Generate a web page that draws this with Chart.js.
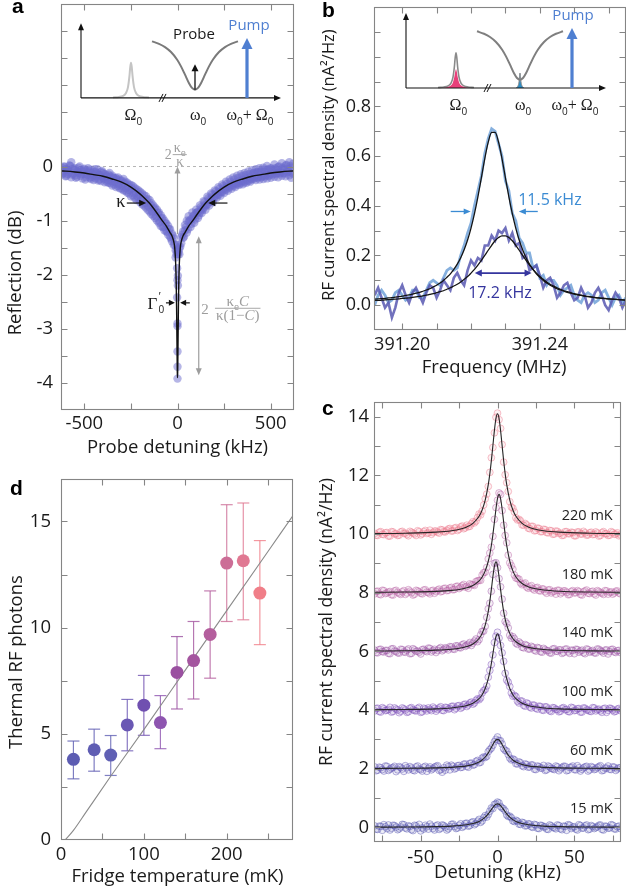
<!DOCTYPE html>
<html><head><meta charset="utf-8">
<script src="https://cdn.jsdelivr.net/npm/chart.js@4.4.1/dist/chart.umd.min.js"></script>
<style>
html,body{margin:0;padding:0;background:#fff;width:626px;height:896px;overflow:hidden}
canvas{position:absolute}
</style></head><body>
<canvas id="ca" width="313" height="470" style="left:0;top:0;width:313px;height:470px"></canvas>
<canvas id="cb" width="313" height="380" style="left:313px;top:0;width:313px;height:380px"></canvas>
<canvas id="cc" width="313" height="516" style="left:313px;top:380px;width:313px;height:516px"></canvas>
<canvas id="cd" width="313" height="426" style="left:0;top:470px;width:313px;height:426px"></canvas>
<script>
// ---------------- DATA ----------------
// Panel a: reflection vs probe detuning (kHz, dB)
const aScanX = [-620,-610,-600,-590,-580,-570,-560,-550,-540,-530,-520,-510,-500,-490,-480,-470,-460,-450,-440,-430,-420,-410,-400,-390,-380,-370,-360,-350,-340,-330,-320,-310,-300,-290,-280,-270,-260,-250,-240,-230,-220,-210,-200,-190,-180,-170,-160,-150,-140,-130,-120,-110,-100,-90,-80,-70,-60,-50,-40,-30,-20,-10,0,10,20,30,40,50,60,70,80,90,100,110,120,130,140,150,160,170,180,190,200,210,220,230,240,250,260,270,280,290,300,310,320,330,340,350,360,370,380,390,400,410,420,430,440,450,460,470,480,490,500,510,520,530,540,550,560,570,580,590,600,610,620];
const aScanA = [-0.02,-0.12,-0.05,-0.14,0.02,0.08,-0.04,-0.16,-0.08,-0.02,
 -0.17,-0.09,-0.04,-0.20,-0.11,-0.06,-0.19,-0.09,-0.22,-0.13,
 -0.24,-0.10,-0.21,-0.14,-0.28,-0.15,-0.31,-0.17,-0.33,-0.21,
 -0.36,-0.24,-0.41,-0.23,-0.45,-0.30,-0.50,-0.34,-0.53,-0.39,
 -0.62,-0.44,-0.66,-0.50,-0.72,-0.55,-0.80,-0.62,-0.88,-0.72,
 -0.95,-0.80,-1.04,-0.90,-1.12,-1.00,-1.20,-1.10,-1.30,-1.24,
 -1.45,-1.55,
 -2.90,
 -1.62,-1.30,-1.20,-1.08,-1.00,-0.92,-0.98,-0.85,-0.90,-0.80,
 -0.84,-0.72,-0.78,-0.64,-0.70,-0.56,-0.62,-0.50,-0.56,-0.44,
 -0.50,-0.38,-0.46,-0.33,-0.40,-0.28,-0.37,-0.24,-0.33,-0.20,
 -0.30,-0.17,-0.27,-0.14,-0.25,-0.12,-0.22,-0.09,-0.20,-0.07,
 -0.12,-0.05,-0.11,-0.03,-0.09,-0.02,-0.10,0.01,-0.07,-0.03,
 -0.09,0.04,-0.06,-0.01,-0.08,0.06,-0.04,0.02,-0.05,0.08,
 -0.02,0.05];
const aScanB = [-0.15,0.00,-0.18,-0.06,-0.11,-0.20,-0.13,-0.03,-0.19,-0.12,
 -0.07,-0.22,-0.14,-0.08,-0.03,-0.21,-0.12,-0.25,-0.10,-0.05,
 -0.16,-0.27,-0.12,-0.29,-0.17,-0.30,-0.19,-0.35,-0.22,-0.38,
 -0.20,-0.40,-0.26,-0.44,-0.28,-0.48,-0.33,-0.55,-0.36,-0.58,
 -0.42,-0.60,-0.47,-0.70,-0.53,-0.76,-0.60,-0.83,-0.68,-0.91,
 -0.76,-1.00,-0.85,-1.10,-0.95,-1.18,-1.05,-1.26,-1.16,-1.38,
 -1.33,-1.68,
 -3.70,
 -1.52,-1.42,-1.32,-1.18,-1.22,-1.02,-1.12,-0.96,-1.04,-0.86,
 -0.95,-0.85,-0.86,-0.76,-0.80,-0.70,-0.72,-0.62,-0.66,-0.57,
 -0.58,-0.52,-0.54,-0.47,-0.49,-0.43,-0.45,-0.39,-0.41,-0.36,
 -0.38,-0.33,-0.34,-0.31,-0.33,-0.29,-0.30,-0.27,-0.28,-0.24,
 -0.22,-0.25,-0.21,-0.24,-0.20,-0.23,-0.18,-0.22,-0.17,-0.21,
 -0.15,-0.19,-0.14,-0.20,-0.13,-0.17,-0.12,-0.18,-0.10,-0.16,
 -0.21,-0.14];
const aScanX2 = [-615,-605,-595,-585,-575,-565,-555,-545,-535,-525,-515,-505,-495,-485,-475,-465,-455,-445,-435,-425,-415,-405,-395,-385,-375,-365,-355,-345,-335,-325,-315,-305,-295,-285,-275,-265,-255,-245,-235,-225,-215,-205,-195,-185,-175,-165,-155,-145,-135,-125,-115,-105,-95,-85,-75,-65,-55,-45,-35,-25,-15,-5,5,15,25,35,45,55,65,75,85,95,105,115,125,135,145,155,165,175,185,195,205,215,225,235,245,255,265,275,285,295,305,315,325,335,345,355,365,375,385,395,405,415,425,435,445,455,465,475,485,495,505,515,525,535,545,555,565,575,585,595,605,615];
const aScanC = [-0.09,-0.01,-0.17,-0.07,0.01,-0.15,-0.06,-0.21,-0.10,0.00,
 -0.14,-0.06,-0.24,-0.15,-0.08,-0.23,-0.16,-0.05,-0.18,-0.26,
 -0.16,-0.08,-0.23,-0.19,-0.25,-0.12,-0.27,-0.20,-0.29,-0.24,
 -0.33,-0.27,-0.36,-0.31,-0.40,-0.37,-0.44,-0.41,-0.49,-0.47,
 -0.55,-0.52,-0.62,-0.58,-0.67,-0.63,-0.74,-0.71,-0.83,-0.78,
 -0.92,-0.86,-1.02,-0.96,-1.12,-1.05,-1.20,-1.16,-1.33,-1.28,
 -1.44,-1.62,
 -1.58,-1.48,-1.26,-1.30,-1.12,-1.16,-1.00,-1.06,-0.92,-0.98,
 -0.85,-0.90,-0.75,-0.80,-0.66,-0.72,-0.59,-0.65,-0.52,-0.58,
 -0.46,-0.52,-0.41,-0.47,-0.36,-0.42,-0.32,-0.38,-0.28,-0.34,
 -0.24,-0.31,-0.21,-0.29,-0.18,-0.27,-0.16,-0.25,-0.14,-0.23,
 -0.13,-0.20,-0.10,-0.19,-0.09,-0.18,-0.06,-0.16,-0.05,-0.15,
 -0.04,-0.13,-0.03,-0.12,0.00,-0.11,-0.02,-0.13,0.03,-0.09,
 0.01,-0.11];
const aCenterX = [-3,3,-2,2,0,2,-2,0,0,4,-4,0];
const aCenterY = [-1.50,-1.62,-1.88,-2.02,-2.10,-2.20,-2.42,-2.95,-3.42,-1.45,-1.55,-3.92];
const aFitX = [-625,-600,-550,-500,-450,-400,-350,-300,-250,-200,-175,-150,-125,-100,-80,-60,-40,-30,-20,-15,-10,-7,-5,-3,-2,-1,0,1,2,3,5,7,10,15,20,30,40,60,80,100,125,150,175,200,250,300,350,400,450,500,550,600,625];
const aFitY = [-0.08,-0.085,-0.10,-0.12,-0.15,-0.18,-0.23,-0.29,-0.38,-0.51,-0.59,-0.68,-0.79,-0.91,-1.01,-1.10,-1.22,-1.28,-1.39,-1.50,-1.78,-2.14,-2.58,-3.20,-3.53,-3.80,-3.90,-3.80,-3.53,-3.20,-2.58,-2.14,-1.78,-1.50,-1.39,-1.28,-1.22,-1.10,-1.01,-0.91,-0.79,-0.68,-0.59,-0.51,-0.38,-0.29,-0.23,-0.18,-0.15,-0.12,-0.10,-0.085,-0.08];
const aXTicks = [-500,-250,0,250,500], aXLabels = [-500,0,500];
const aYTicks = [-4,-3.5,-3,-2.5,-2,-1.5,-1,-0.5,0,0.5,1,1.5,2,2.5], aYLabels = [0,-1,-2,-3,-4];

// Schematic insets (arbitrary units)
const insetPeakX = [1.6,1.9,2.1,2.25,2.35,2.42,2.46,2.5,2.54,2.58,2.65,2.75,2.9,3.1,3.4];
const insetPeakY = [0.006,0.013,0.028,0.065,0.145,0.287,0.405,0.47,0.405,0.287,0.145,0.065,0.028,0.013,0.006];
const insetPinkY = [0.003,0.007,0.015,0.035,0.077,0.153,0.215,0.25,0.215,0.153,0.077,0.035,0.015,0.007,0.003];
const insetDipX = [3.55,3.9,4.2,4.5,4.8,5.0,5.2,5.4,5.55,5.7,5.85,6.0,6.2,6.4,6.6,6.9,7.2,7.5,7.85];
const insetDipY = [0.756,0.723,0.680,0.614,0.514,0.422,0.311,0.197,0.134,0.11,0.134,0.197,0.311,0.422,0.514,0.614,0.680,0.723,0.756];
const insetSpikeX = [5.5,5.6,5.65,5.7,5.75,5.8,5.9];
const insetSpikeY = [0.0,0.03,0.08,0.2,0.08,0.03,0.0];

// Panel b: RF spectra (MHz, nA^2/Hz)
const bFreq = [391.192,391.193,391.194,391.195,391.196,391.197,391.198,391.199,391.200,391.201,391.202,391.203,391.204,391.205,391.206,391.207,391.208,391.209,391.210,391.211,391.212,391.213,391.214,391.215,391.216,391.217,391.218,391.219,391.220,391.221,391.222,391.223,391.224,391.225,391.226,391.227,391.228,391.229,391.230,391.231,391.232,391.233,391.234,391.235,391.236,391.237,391.238,391.239,391.240,391.241,391.242,391.243,391.244,391.245,391.246,391.247,391.248,391.249,391.250,391.251,391.252,391.253,391.254,391.255,391.256,391.257,391.258,391.259,391.260,391.261,391.262,391.263,391.264,391.265];
const bNarrow = [0.00,0.04,0.06,0.04,0.01,0.02,0.05,0.06,0.04,0.02,
 0.03,0.06,0.06,0.03,0.03,0.06,0.09,0.10,0.09,0.08,
 0.11,0.14,0.15,0.14,0.15,0.20,0.24,0.29,0.33,0.40,
 0.46,0.52,0.61,0.67,0.71,0.70,0.65,0.60,0.50,0.46,
 0.37,0.34,0.27,0.25,0.21,0.21,0.15,0.16,0.11,0.12,
 0.08,0.10,0.10,0.08,0.04,0.06,0.07,0.08,0.04,0.02,
 0.01,0.04,0.05,0.04,0.01,0.02,0.05,0.06,0.03,0.00,
 0.03,0.04,0.01,0.03];
const bBroad = [0.04,0.07,0.03,-0.01,0.01,-0.05,-0.01,0.05,0.08,0.04,
 0.01,0.05,0.07,0.04,0.01,0.05,0.08,0.07,0.03,0.06,
 0.10,0.08,0.06,0.11,0.13,0.10,0.08,0.14,0.18,0.16,
 0.19,0.18,0.24,0.24,0.28,0.26,0.30,0.29,0.31,0.26,
 0.29,0.24,0.25,0.19,0.20,0.14,0.15,0.16,0.12,0.07,
 0.10,0.11,0.08,0.03,0.05,0.08,0.09,0.05,0.02,0.03,
 0.07,0.04,-0.01,0.01,0.05,0.07,0.04,0.00,-0.02,0.02,
 0.05,0.03,-0.01,0.02];
const bNarrowFit = [0.024,0.025,0.026,0.027,0.029,0.030,0.032,0.034,0.036,0.039,
 0.041,0.044,0.048,0.051,0.056,0.061,0.066,0.073,0.080,0.089,
 0.099,0.112,0.126,0.144,0.165,0.191,0.223,0.262,0.310,0.368,
 0.436,0.512,0.590,0.656,0.695,0.695,0.656,0.590,0.512,0.436,
 0.368,0.310,0.262,0.223,0.191,0.165,0.144,0.126,0.112,0.099,
 0.089,0.080,0.073,0.066,0.061,0.056,0.051,0.048,0.044,0.041,
 0.039,0.036,0.034,0.032,0.030,0.029,0.027,0.026,0.025,0.024,
 0.023,0.022,0.021,0.020];
const bBroadFit = [0.019,0.019,0.020,0.021,0.022,0.023,0.024,0.025,0.027,0.028,
 0.029,0.031,0.033,0.035,0.037,0.040,0.043,0.046,0.050,0.054,
 0.058,0.064,0.070,0.077,0.084,0.093,0.104,0.115,0.129,0.144,
 0.161,0.180,0.200,0.221,0.241,0.259,0.272,0.279,0.279,0.272,
 0.259,0.241,0.221,0.200,0.180,0.161,0.144,0.129,0.115,0.104,
 0.093,0.084,0.077,0.070,0.064,0.058,0.054,0.050,0.046,0.043,
 0.040,0.037,0.035,0.033,0.031,0.029,0.028,0.027,0.025,0.024,
 0.023,0.022,0.021,0.020];
const bXTicks = [391.20,391.21,391.22,391.23,391.24,391.25,391.26], bXLabels = [391.20,391.24];
const bYTicks = [0,0.1,0.2,0.3,0.4,0.5,0.6,0.7,0.8,0.9,1.0,1.1], bYLabels = [0,0.2,0.4,0.6,0.8];

// Panel c: spectra at fridge temperatures (kHz, nA^2/Hz, offset)
const cDet = [-80,-78,-76,-74,-72,-70,-68,-66,-64,-62,-60,-58,-56,-54,-52,-50,-48,-46,-44,-42,-40,-38,-36,-34,-32,-30,-28,-26,-24,-22,-20,-18,-16,-14,-12,-10,-8,-6,-4,-2,0,2,4,6,8,10,12,14,16,18,20,22,24,26,28,30,32,34,36,38,40,42,44,46,48,50,52,54,56,58,60,62,64,66,68,70,72,74,76,78,80];
const cDetOdd = [-79,-77,-75,-73,-71,-69,-67,-65,-63,-61,-59,-57,-55,-53,-51,-49,-47,-45,-43,-41,-39,-37,-35,-33,-31,-29,-27,-25,-23,-21,-19,-17,-15,-13,-11,-9,-7,-5,-3,-1,1,3,5,7,9,11,13,15,17,19,21,23,25,27,29,31,33,35,37,39,41,43,45,47,49,51,53,55,57,59,61,63,65,67,69,71,73,75,77,79];
const c15 = [0.05,-0.07,0.03,0.09,-0.04,-0.09,0.07,0.01,-0.05,0.10,
 -0.02,0.05,-0.08,0.07,-0.03,-0.12,-0.06,0.02,0.11,-0.04,
 0.05,-0.07,0.08,0.01,-0.05,0.10,0.03,-0.02,0.12,0.04,
 0.14,0.06,0.19,0.13,0.27,0.22,0.40,0.44,0.66,0.78,
 0.86,
 0.71,0.63,0.42,0.38,0.22,0.24,0.11,0.17,0.05,0.12,
 0.02,0.10,-0.03,0.07,0.01,-0.06,0.08,0.00,-0.05,0.06,
 -0.08,0.03,0.09,-0.04,0.02,-0.09,0.06,-0.02,0.08,-0.06,
 0.03,-0.01,0.07,-0.07,0.04,-0.03,0.09,-0.05,0.02,-0.04];
const c15b = [-0.06,0.04,-0.10,0.02,0.08,-0.03,0.06,-0.08,0.01,0.09,
 -0.05,0.03,-0.11,0.05,0.10,-0.02,0.07,-0.06,0.04,-0.09,
 0.08,-0.03,0.06,-0.09,0.02,0.11,-0.04,0.07,0.00,0.13,
 0.04,0.16,0.09,0.21,0.17,0.33,0.35,0.55,0.64,0.80,
 0.83,0.66,0.56,0.37,0.33,0.20,0.21,0.10,0.15,0.06,
 0.11,0.00,0.08,-0.04,0.06,0.02,-0.07,0.05,-0.02,0.08,
 -0.05,0.04,-0.10,0.07,0.01,-0.06,0.09,-0.03,0.05,-0.08,
 0.06,-0.04,0.02,0.08,-0.09,0.03,-0.02,0.07,-0.06,0.04];
const c60 = [2.06,1.95,2.03,1.92,2.08,1.98,2.04,1.90,2.07,1.99,
 2.10,1.96,2.02,1.93,2.09,1.97,2.05,1.91,2.06,2.00,
 2.08,1.94,1.88,1.95,2.07,2.12,1.99,2.10,2.04,2.15,
 2.08,2.18,2.12,2.25,2.20,2.36,2.38,2.58,2.70,2.92,
 3.08,
 2.95,2.68,2.60,2.36,2.33,2.17,2.23,2.10,2.16,2.05,
 2.13,1.98,2.09,2.02,2.11,1.96,2.06,1.99,2.09,1.93,
 2.04,2.08,1.95,2.05,1.97,2.10,1.92,2.03,2.08,1.96,
 2.04,1.99,2.07,1.93,2.02,2.09,1.97,2.05,1.99,2.03];
const c60b = [1.93,2.05,1.97,2.09,1.94,2.02,2.08,1.96,2.04,1.91,
 2.03,2.07,1.95,2.06,1.99,1.92,2.08,2.01,1.96,2.05,
 2.10,1.97,2.03,2.12,1.96,2.08,2.02,2.11,2.05,2.16,
 2.05,2.19,2.14,2.28,2.22,2.40,2.42,2.65,2.80,3.00,
 2.96,2.84,2.62,2.48,2.30,2.30,2.16,2.20,2.07,2.14,
 2.06,2.12,1.97,2.07,2.02,1.94,2.09,2.01,1.97,2.06,
 1.99,2.08,1.93,2.04,2.09,1.96,2.03,1.98,2.06,1.92,
 2.07,1.97,2.04,2.10,1.95,2.02,1.98,2.06,1.94,2.03];
const c100 = [3.97,4.06,3.93,4.04,3.99,4.09,3.95,4.03,3.91,4.07,
 4.00,3.94,4.08,3.98,4.05,3.92,4.06,3.97,4.02,4.10,
 3.96,4.07,3.99,4.09,4.03,4.12,4.01,4.14,4.06,4.18,
 4.12,4.24,4.20,4.33,4.35,4.58,4.70,5.12,5.55,6.30,
 6.65,
 6.20,5.66,5.02,4.80,4.47,4.46,4.24,4.30,4.13,4.21,
 4.07,4.16,4.03,4.12,3.99,4.10,3.97,4.08,4.02,3.94,
 4.06,4.01,3.95,4.09,3.98,4.04,3.93,4.07,4.00,3.96,
 4.08,3.97,4.03,3.92,4.06,3.99,4.05,3.94,4.03,3.98];
const c100b = [4.05,3.95,4.08,3.98,4.02,3.93,4.07,4.00,3.96,4.04,
 3.92,4.06,4.01,3.97,4.09,3.94,4.03,4.07,3.98,4.05,
 4.02,4.11,3.98,4.08,4.05,4.13,4.06,4.15,4.10,4.20,
 4.17,4.27,4.24,4.38,4.41,4.66,4.82,5.35,5.88,6.52,
 6.45,5.95,5.25,4.95,4.58,4.50,4.30,4.31,4.16,4.24,
 4.10,4.17,4.06,4.13,4.00,4.11,4.03,3.95,4.07,4.01,
 3.96,4.08,4.02,3.94,4.07,3.99,4.05,3.93,4.06,4.00,
 3.95,4.07,4.01,3.97,4.04,3.92,4.06,4.00,3.96,4.05];
const c140 = [6.04,5.95,6.07,5.98,6.03,5.92,6.09,6.00,5.94,6.06,
 5.97,6.08,5.93,6.05,6.01,5.91,6.07,5.99,6.10,6.03,
 5.96,6.09,6.02,6.12,6.05,6.15,6.07,6.18,6.12,6.25,
 6.20,6.30,6.28,6.42,6.40,6.68,6.85,7.45,8.05,9.00,
 8.85,
 8.20,7.30,6.95,6.55,6.50,6.28,6.32,6.14,6.23,6.08,
 6.17,6.04,6.13,5.99,6.10,6.02,5.95,6.08,6.00,6.05,
 5.93,6.07,5.98,6.04,5.92,6.06,6.01,5.95,6.08,5.97,
 6.03,5.94,6.07,5.99,6.04,5.91,6.06,5.98,6.02,5.96];
const c140b = [5.96,6.06,5.99,6.03,5.93,6.08,6.01,5.95,6.07,5.98,
 6.04,5.92,6.09,6.00,5.97,6.06,6.02,6.11,5.98,6.07,
 6.03,6.13,6.06,6.10,6.16,6.08,6.19,6.13,6.22,6.17,
 6.24,6.20,6.35,6.33,6.56,6.69,7.16,7.64,8.62,9.02,
 8.48,7.78,7.02,6.80,6.45,6.43,6.24,6.27,6.12,6.20,
 6.08,6.14,6.01,6.11,5.97,6.06,6.02,5.94,6.09,6.00,
 6.05,5.96,6.08,5.93,6.03,6.07,5.97,6.04,5.92,6.06,
 6.00,5.95,6.08,6.02,5.94,6.05,5.99,6.07,5.96,6.03];
const c180 = [7.96,8.05,7.93,8.07,7.99,8.04,7.92,8.08,7.97,8.03,
 7.94,8.10,8.00,7.95,8.06,7.98,8.09,8.02,7.96,8.08,
 8.04,8.12,8.05,8.15,8.08,8.18,8.11,8.22,8.18,8.28,
 8.21,8.30,8.27,8.38,8.42,8.60,8.70,9.15,9.55,10.50,
 11.15,
 11.35,10.30,9.70,9.02,8.80,8.50,8.46,8.27,8.33,8.15,
 8.24,8.09,8.18,8.06,8.12,7.98,8.10,8.03,7.95,8.08,
 8.01,8.06,7.93,8.04,7.99,8.07,7.94,8.03,8.09,7.97,
 8.05,7.92,8.04,7.98,8.07,7.95,8.03,7.99,8.06,7.96];
const c180b = [8.04,7.95,8.08,7.97,8.02,7.93,8.06,8.01,7.94,8.07,
 7.99,8.05,7.92,8.08,8.03,7.96,8.10,8.00,8.06,7.98,
 8.09,8.03,8.14,8.07,8.16,8.10,8.21,8.14,8.24,8.19,
 8.15,8.27,8.25,8.40,8.42,8.68,8.86,9.35,9.92,10.90,
 11.40,10.80,9.95,9.28,8.92,8.60,8.48,8.33,8.30,8.19,
 8.20,8.13,8.16,8.07,8.13,8.03,8.09,7.99,8.05,8.08,
 7.96,8.06,8.01,7.94,8.07,8.00,8.04,7.92,8.06,7.98,
 8.03,7.96,8.07,8.00,7.94,8.06,8.01,7.95,8.05,7.99];
const c220 = [10.02,9.95,10.08,9.98,10.05,9.93,10.07,10.01,9.96,10.09,
 10.03,9.94,10.06,10.00,10.11,9.97,10.08,10.02,10.13,10.05,
 10.10,10.03,10.14,10.07,10.17,10.10,10.20,10.12,10.24,10.18,
 10.30,10.26,10.42,10.44,10.68,10.78,11.20,11.62,12.60,13.45,
 14.12,
 13.60,12.45,11.75,11.10,10.88,10.55,10.50,10.31,10.36,10.20,
 10.26,10.11,10.20,10.08,10.16,10.05,10.12,9.99,10.10,10.02,
 9.95,10.08,10.01,10.06,9.94,10.07,10.00,10.09,9.96,10.04,
 9.98,10.07,9.93,10.05,10.01,9.95,10.08,9.99,10.04,9.97];
const c220b = [9.96,10.06,9.99,10.04,9.93,10.08,10.00,9.95,10.07,10.02,
 9.98,10.09,10.03,9.95,10.08,10.01,10.12,10.04,9.99,10.10,
 10.06,10.15,10.08,10.12,10.19,10.11,10.22,10.16,10.27,10.21,
 10.25,10.35,10.38,10.56,10.65,10.99,11.36,12.10,12.95,13.98,
 13.90,13.05,12.02,11.45,10.92,10.75,10.48,10.45,10.30,10.31,
 10.18,10.26,10.12,10.19,10.08,10.15,10.04,10.11,10.00,10.09,
 10.03,9.96,10.08,10.01,10.05,9.94,10.07,10.00,10.04,9.97,
 10.06,9.99,10.03,9.95,10.08,10.01,9.96,10.05,10.00,9.94];
const cFitX = [-80,-60,-40,-30,-24,-20,-16,-12,-10,-8,-6,-5,-4,-3,-2,-1,0,1,2,3,4,5,6,8,10,12,16,20,24,30,40,60,80];
const c15Fit = [0.006,0.011,0.024,0.041,0.063,0.087,0.129,0.203,0.263,0.347,0.461,0.530,0.603,0.676,0.740,0.784,0.800,0.784,0.740,0.676,0.603,0.530,0.461,0.347,0.263,0.203,0.129,0.087,0.063,0.041,0.024,0.011,0.006];
const c60Fit = [2.007,2.012,2.026,2.045,2.068,2.096,2.142,2.227,2.297,2.398,2.540,2.628,2.725,2.824,2.913,2.977,3.000,2.977,2.913,2.824,2.725,2.628,2.540,2.398,2.297,2.227,2.142,2.096,2.068,2.045,2.026,2.012,2.007];
const c100Fit = [4.010,4.018,4.040,4.070,4.108,4.153,4.231,4.385,4.520,4.731,5.066,5.300,5.585,5.912,6.241,6.500,6.600,6.500,6.241,5.912,5.585,5.300,5.066,4.731,4.520,4.385,4.231,4.153,4.108,4.070,4.040,4.018,4.010];
const c140Fit = [6.010,6.018,6.040,6.072,6.113,6.162,6.252,6.437,6.610,6.892,7.365,7.704,8.112,8.547,8.907,9.050,8.907,8.547,8.112,7.704,7.365,7.098,6.892,6.610,6.437,6.326,6.200,6.134,6.096,6.063,6.036,6.016,6.009];
const c180Fit = [8.012,8.021,8.045,8.078,8.119,8.166,8.247,8.402,8.536,8.742,9.071,9.307,9.607,9.977,10.409,10.854,11.210,11.350,11.210,10.854,10.409,9.977,9.607,9.071,8.742,8.536,8.311,8.201,8.140,8.089,8.050,8.022,8.012];
const c220Fit = [10.016,10.028,10.063,10.111,10.171,10.241,10.365,10.607,10.820,11.152,11.681,12.050,12.500,13.015,13.534,13.942,14.100,13.942,13.534,13.015,12.500,12.050,11.681,11.152,10.820,10.607,10.365,10.241,10.171,10.111,10.063,10.028,10.016];
const cLabels = ['15 mK','60 mK','100 mK','140 mK','180 mK','220 mK'];
const cOffsets = [0,2,4,6,8,10];
const cXTicks = [-75,-50,-25,0,25,50,75], cXLabels = [-50,0,50];
const cYTicks = [0,1,2,3,4,5,6,7,8,9,10,11,12,13,14], cYLabels = [0,2,4,6,8,10,12,14];

// Panel d: thermal photons vs fridge temperature
const dTemp = [15,40,60,80,100,120,140,160,180,200,220,240];
const dPhotons = [3.80,4.25,4.00,5.42,6.35,5.53,7.89,8.45,9.68,13.04,13.15,11.63];
const dErrLow = [2.88,3.24,3.04,4.20,4.93,4.30,6.17,6.64,7.62,10.29,10.37,9.20];
const dErrHigh = [4.66,5.22,4.92,6.62,7.75,6.80,9.58,10.29,11.73,15.79,15.87,14.10];
const dTheoryT = [5,15,30,60,100,150,200,250,280];
const dTheoryN = [0,0.45,1.3,3.0,5.2,8.0,10.8,13.6,15.28];
const dXTicks = [0,50,100,150,200,250], dXLabels = [0,100,200];
const dYTicks = [0,2.5,5,7.5,10,12.5,15], dYLabels = [0,5,10,15];

// ---------------- STYLE ----------------
const INK = '#1a1a1a';
const FONT = "'Open Sans', 'DejaVu Sans', sans-serif";
const SERIF = "'Liberation Serif', 'DejaVu Serif', serif";
const LETTER = "bold 21px 'Liberation Sans', Arial, sans-serif";
const PUMP = '#4f7fd1';
const cRGB = [[85,85,175],[95,85,180],[125,80,185],[155,85,165],[185,100,165],[235,120,140]];
const dColors = ['#5c5cb2','#5f5db3','#6060b4','#6a58b4','#7050b0','#8e55b0','#9a50a0','#a4559f','#b45e9d','#cc6d96','#e07892','#f07e88'];

const pts = (xs, ys) => xs.map((x, i) => ({x, y: ys[i]}));
const near = (arr, v) => arr.some(l => Math.abs(l - v) < 1e-7);

function axisX(min, max, tv, lv, fmt, size, pad, h) {
  return {type:'linear', position:'bottom', min, max,
    afterBuildTicks: s => { s.ticks = tv.map(v => ({value: v})); },
    afterFit: s => { s.height = h; s.paddingLeft = s.paddingRight = s.paddingTop = s.paddingBottom = 0; },
    ticks:{autoSkip:false, maxRotation:0, minRotation:0, padding:pad, color:INK, font:{size, family:FONT},
      callback: v => near(lv, v) ? fmt(v) : ''},
    grid:{display:false, drawTicks:false}, border:{display:false}};
}
function axisY(min, max, tv, lv, fmt, size, pad, w) {
  return {type:'linear', position:'left', min, max,
    afterBuildTicks: s => { s.ticks = tv.map(v => ({value: v})); },
    afterFit: s => { s.width = w; s.paddingLeft = s.paddingRight = s.paddingTop = s.paddingBottom = 0; },
    ticks:{autoSkip:false, padding:pad, color:INK, font:{size, family:FONT},
      callback: v => near(lv, v) ? fmt(v) : ''},
    grid:{display:false, drawTicks:false}, border:{display:false}};
}
const hidden = (axis, min, max) => ({type:'linear', axis, display:false, min, max});

function line(ctx, x1, y1, x2, y2, color, w, dash) {
  ctx.save(); ctx.strokeStyle = color; ctx.lineWidth = w; if (dash) ctx.setLineDash(dash);
  ctx.beginPath(); ctx.moveTo(x1, y1); ctx.lineTo(x2, y2); ctx.stroke(); ctx.restore();
}
function head(ctx, x1, y1, x2, y2, color, len, half) {
  const a = Math.atan2(y2 - y1, x2 - x1), c = Math.cos(a), s = Math.sin(a);
  ctx.save(); ctx.fillStyle = color; ctx.beginPath(); ctx.moveTo(x2, y2);
  ctx.lineTo(x2 - len*c + half*s, y2 - len*s - half*c);
  ctx.lineTo(x2 - len*c - half*s, y2 - len*s + half*c);
  ctx.closePath(); ctx.fill(); ctx.restore();
}
function arrow(ctx, x1, y1, x2, y2, color, w, len, half, both) {
  const a = Math.atan2(y2 - y1, x2 - x1), c = Math.cos(a), s = Math.sin(a);
  line(ctx, both ? x1 + len*0.6*c : x1, both ? y1 + len*0.6*s : y1, x2 - len*0.6*c, y2 - len*0.6*s, color, w);
  head(ctx, x1, y1, x2, y2, color, len, half);
  if (both) head(ctx, x2, y2, x1, y1, color, len, half);
}
function text(ctx, s, x, y, font, color, align, base, rot) {
  ctx.save(); ctx.font = font; ctx.fillStyle = color; ctx.textAlign = align || 'center';
  ctx.textBaseline = base || 'middle'; ctx.translate(x, y); if (rot) ctx.rotate(rot);
  ctx.fillText(s, 0, 0); ctx.restore();
}
function segFont(k, size) {
  if (k === 's') return Math.round(size*0.62) + 'px ' + FONT;
  if (k === 'i') return 'italic ' + size + 'px ' + SERIF;
  if (k === 'f') return size + 'px ' + FONT;
  return size + 'px ' + SERIF;
}
function richWidth(ctx, segs, size) {
  let w = 0; for (const [t, k] of segs) { ctx.font = segFont(k, size); w += ctx.measureText(t).width; } return w;
}
function rich(ctx, segs, x, base, size, color, align) {
  ctx.save(); ctx.fillStyle = color; ctx.textAlign = 'left'; ctx.textBaseline = 'alphabetic';
  const total = richWidth(ctx, segs, size);
  let cx = align === 'right' ? x - total : align === 'left' ? x : x - total/2;
  for (const [t, k] of segs) {
    ctx.font = segFont(k, size);
    ctx.fillText(t, cx, base + (k === 's' ? size*0.28 : 0));
    cx += ctx.measureText(t).width;
  }
  ctx.restore();
}
function frac(ctx, num, den, cx, bar, size, color) {
  const wn = richWidth(ctx, num, size), wd = richWidth(ctx, den, size);
  const w = Math.max(wn, wd) + 2;
  line(ctx, cx - w/2, bar, cx + w/2, bar, color, 0.9);
  rich(ctx, num, cx, bar - 2.5, size, color, 'center');
  rich(ctx, den, cx, bar + size*0.78, size, color, 'center');
}
function frame(chart) {
  const {ctx, chartArea: a} = chart, xs = chart.scales.x, ys = chart.scales.y;
  const L = Math.round(a.left) + 0.5, R = Math.round(a.right) - 0.5, T = Math.round(a.top) + 0.5, B = Math.round(a.bottom) - 0.5;
  ctx.save(); ctx.strokeStyle = '#858585'; ctx.lineWidth = 1.1; ctx.strokeRect(L, T, R - L, B - T);
  ctx.beginPath();
  for (const t of xs.ticks) { const p = Math.round(xs.getPixelForValue(t.value)) + 0.5; if (p <= L + 1 || p >= R - 1) continue;
    ctx.moveTo(p, B); ctx.lineTo(p, B - 6); ctx.moveTo(p, T); ctx.lineTo(p, T + 6); }
  for (const t of ys.ticks) { const p = Math.round(ys.getPixelForValue(t.value)) + 0.5; if (p <= T + 1 || p >= B - 1) continue;
    ctx.moveTo(L, p); ctx.lineTo(L + 6, p); ctx.moveTo(R, p); ctx.lineTo(R - 6, p); }
  ctx.stroke(); ctx.restore();
}
function insetAxes(chart) {
  const {ctx} = chart, XI = v => chart.scales.xi.getPixelForValue(v), YI = v => chart.scales.yi.getPixelForValue(v);
  arrow(ctx, XI(0), YI(0), XI(0), YI(1), '#111', 1.1, 7, 3);
  arrow(ctx, XI(0), YI(0), XI(10), YI(0), '#111', 1.1, 7, 3);
  const bx = XI(4.1), by = YI(0);
  line(ctx, bx - 4, by + 4, bx, by - 4, '#111', 1);
  line(ctx, bx - 1, by + 4, bx + 3, by - 4, '#111', 1);
  const base = YI(-0.3);
  rich(ctx, [['Ω','n'],['0','s']], XI(2.62), base, 16, INK, 'center');
  rich(ctx, [['ω','n'],['0','s']], XI(5.85), base, 16, INK, 'center');
  rich(ctx, [['ω','n'],['0','s'],['+ Ω','n'],['0','s']], XI(8.45), base, 16, INK, 'center');
  arrow(ctx, XI(8.3), YI(0), XI(8.3), YI(0.8), PUMP, 3.2, 11, 5.5);
}
function title(ctx, s, x, y, size, rot) { text(ctx, s, x, y, size + 'px ' + FONT, INK, 'center', 'middle', rot); }
const lineDs = (data, color, w, extra) => Object.assign({type:'line', data, borderColor:color, borderWidth:w, pointRadius:0, fill:false, cubicInterpolationMode:'monotone'}, extra || {});
const common = (pad, scales) => ({responsive:false, animation:false, devicePixelRatio:1, events:[], layout:{padding:pad},
  plugins:{legend:{display:false}, tooltip:{enabled:false}}, scales});

// ---------------- PANEL A ----------------
const aDot = {pointRadius:4.2, backgroundColor:'rgba(108,108,206,0.5)', borderWidth:0};
new Chart(document.getElementById('ca'), {
  type:'scatter',
  data:{datasets:[
    lineDs(pts(aFitX, aFitY), '#111', 1.4, {order:0}),
    lineDs(pts(insetDipX, insetDipY), '#7a7a7a', 2, {xAxisID:'xi', yAxisID:'yi', order:1}),
    lineDs(pts(insetPeakX, insetPeakY), '#c4c4c4', 2, {xAxisID:'xi', yAxisID:'yi', order:1}),
    Object.assign({data: pts(aCenterX, aCenterY), order:2}, aDot),
    Object.assign({data: pts(aScanX, aScanA), order:3}, aDot),
    Object.assign({data: pts(aScanX, aScanB), order:4}, aDot),
    Object.assign({data: pts(aScanX2, aScanC), order:5}, aDot),
    lineDs([{x:-625, y:0}, {x:625, y:0}], '#b4b4b4', 1, {borderDash:[3,3], cubicInterpolationMode:'default', order:6})
  ]},
  options: common({left:0, top:3, right:19, bottom:0}, {
    x: axisX(-625, 625, aXTicks, aXLabels, v => String(v), 18.5, 3, 60),
    y: axisY(-4.5, 3, aYTicks, aYLabels, v => String(v), 18.5, 8, 61),
    xi: hidden('x', -1, 10.65), yi: hidden('y', -4.1733, 1.2533)
  }),
  plugins:[{id:'decoA', afterDatasetsDraw(c) {
    const ctx = c.ctx, X = v => c.scales.x.getPixelForValue(v), Y = v => c.scales.y.getPixelForValue(v);
    const XI = v => c.scales.xi.getPixelForValue(v), YI = v => c.scales.yi.getPixelForValue(v);
    frame(c);
    insetAxes(c);
    arrow(ctx, XI(5.7), YI(0.11), XI(5.7), YI(0.45), '#111', 1.3, 7, 3.5);
    text(ctx, 'Probe', XI(5.65), YI(0.85), '15px ' + FONT, INK);
    text(ctx, 'Pump', XI(8.4), YI(0.97), '15px ' + FONT, PUMP);
    const G = '#9d9d9d';
    arrow(ctx, X(0), Y(-1.25), X(0), Y(0), G, 1.2, 7, 3);
    arrow(ctx, X(114), Y(-1.29), X(114), Y(-3.86), G, 1.2, 7, 3, true);
    rich(ctx, [['2','n']], X(-31), Y(0.13), 14, G, 'right');
    frac(ctx, [['κ','n'],['e','s']], [['κ','n']], X(12), Y(0.22), 14, G);
    rich(ctx, [['2','n']], X(168), Y(-2.72), 15, G, 'right');
    frac(ctx, [['κ','n'],['e','s'],['C','i']], [['κ(1−','n'],['C','i'],[')','n']], X(323), Y(-2.62), 15, G);
    rich(ctx, [['κ','n']], X(-304), Y(-0.675) + 4, 18, INK, 'center');
    arrow(ctx, X(-272), Y(-0.675), X(-168), Y(-0.675), '#111', 1.2, 7, 3.2);
    arrow(ctx, X(268), Y(-0.675), X(165), Y(-0.675), '#111', 1.2, 7, 3.2);
    const gx = X(-70), gy = Y(-2.52) + 6;
    rich(ctx, [['Γ','n']], gx - 7, gy, 17, INK, 'right');
    text(ctx, '′', gx - 6, gy - 9, '12px ' + SERIF, INK, 'left', 'alphabetic');
    text(ctx, '0', gx - 6, gy + 4, '10px ' + FONT, INK, 'left', 'alphabetic');
    arrow(ctx, X(-62), Y(-2.52), X(-14), Y(-2.52), '#111', 1.2, 6, 3);
    arrow(ctx, X(66), Y(-2.52), X(14), Y(-2.52), '#111', 1.2, 6, 3);
  }, afterDraw(c) {
    const ctx = c.ctx;
    text(ctx, 'a', 12, 13, LETTER, '#000', 'left', 'alphabetic');
    title(ctx, 'Reflection (dB)', 16, 273, 18.5, -Math.PI/2);
    title(ctx, 'Probe detuning (kHz)', 177.5, 448, 18.5);
  }}]
});

// ---------------- PANEL B ----------------
new Chart(document.getElementById('cb'), {
  type:'scatter',
  data:{datasets:[
    lineDs(pts(bFreq, bNarrowFit), '#141414', 1.3, {order:0}),
    lineDs(pts(bFreq, bBroadFit), '#141414', 1.3, {order:0}),
    lineDs(pts(bFreq, bBroad), 'rgba(88,88,178,0.85)', 2.6, {cubicInterpolationMode:'default', order:2}),
    lineDs(pts(bFreq, bNarrow), 'rgba(128,172,220,0.95)', 2.8, {cubicInterpolationMode:'default', order:3}),
    lineDs(pts(insetDipX, insetDipY), '#7f7f7f', 2, {xAxisID:'xi', yAxisID:'yi', order:1}),
    lineDs(pts(insetSpikeX, insetSpikeY), '#8a8a8a', 1, {xAxisID:'xi', yAxisID:'yi', fill:'origin', backgroundColor:'#2b8cc4', order:1}),
    lineDs(pts(insetPeakX, insetPeakY), '#8a8a8a', 1.6, {xAxisID:'xi', yAxisID:'yi', order:1}),
    lineDs(pts(insetPeakX, insetPinkY), 'rgba(0,0,0,0)', 0, {xAxisID:'xi', yAxisID:'yi', fill:'origin', backgroundColor:'#e8407a', order:1})
  ]},
  options: common({left:0, top:7, right:0.5, bottom:0}, {
    x: axisX(391.1918, 391.2649, bXTicks, bXLabels, v => v.toFixed(2), 18, 4, 50),
    y: axisY(-0.1, 1.2, bYTicks, bYLabels, v => v.toFixed(1), 18, 3, 61),
    xi: hidden('x', -1.6, 10.975), yi: hidden('y', -3.2267, 1.08)
  }),
  plugins:[{id:'decoB', afterDatasetsDraw(c) {
    const ctx = c.ctx, X = v => c.scales.x.getPixelForValue(v), Y = v => c.scales.y.getPixelForValue(v);
    const XI = v => c.scales.xi.getPixelForValue(v), YI = v => c.scales.yi.getPixelForValue(v);
    frame(c);
    insetAxes(c);
    text(ctx, 'Pump', XI(8.35), YI(0.96), '15px ' + FONT, PUMP);
    const LB = '#3b8bd3', DB = '#35359e';
    arrow(ctx, X(391.2141), Y(0.377), X(391.2199), Y(0.377), LB, 1.3, 7, 3);
    arrow(ctx, X(391.2394), Y(0.377), X(391.2339), Y(0.377), LB, 1.3, 7, 3);
    text(ctx, '11.5 kHz', X(391.2337), Y(0.42), '16px ' + FONT, LB, 'left');
    arrow(ctx, X(391.2211), Y(0.129), X(391.2376), Y(0.129), DB, 1.6, 7, 3.5, true);
    text(ctx, '17.2 kHz', X(391.2284), Y(0.048), '16px ' + FONT, DB);
  }, afterDraw(c) {
    const ctx = c.ctx;
    text(ctx, 'b', 9, 17, LETTER, '#000', 'left', 'alphabetic');
    title(ctx, 'RF current spectral density (nA²/Hz)', 16, 165, 16.5, -Math.PI/2);
    title(ctx, 'Frequency (MHz)', 181, 368, 18.5);
  }}]
});

// ---------------- PANEL C ----------------
const cSeries = [c15, c60, c100, c140, c180, c220];
const cSeriesOdd = [c15b, c60b, c100b, c140b, c180b, c220b];
const cFits = [c15Fit, c60Fit, c100Fit, c140Fit, c180Fit, c220Fit];
const cDatasets = [];
cFits.forEach(f => cDatasets.push(lineDs(pts(cFitX, f), '#262626', 1.1, {order:0})));
cSeries.forEach((s, i) => {
  const [r, g, b] = cRGB[i];
  const sty = {pointRadius:3.4, borderWidth:1, borderColor:`rgba(${r},${g},${b},0.45)`, backgroundColor:`rgba(${r},${g},${b},0.1)`};
  cDatasets.push(Object.assign({data: pts(cDet, s), order:1 + i}, sty));
  cDatasets.push(Object.assign({data: pts(cDetOdd, cSeriesOdd[i]), order:1 + i}, sty));
});
new Chart(document.getElementById('cc'), {
  type:'scatter',
  data:{datasets: cDatasets},
  options: common({left:0, top:22, right:0.5, bottom:0}, {
    x: axisX(-80.4, 80.4, cXTicks, cXLabels, v => String(v), 18.5, 5, 54),
    y: axisY(-0.5, 14.5, cYTicks, cYLabels, v => String(v), 18.5, 5, 61)
  }),
  plugins:[{id:'decoC', afterDatasetsDraw(c) {
    const ctx = c.ctx, X = v => c.scales.x.getPixelForValue(v), Y = v => c.scales.y.getPixelForValue(v);
    frame(c);
    cLabels.forEach((l, i) => text(ctx, l, X(75), Y(cOffsets[i] + 0.62), '14.5px ' + FONT, '#222', 'right'));
  }, afterDraw(c) {
    const ctx = c.ctx;
    text(ctx, 'c', 9, 35, LETTER, '#000', 'left', 'alphabetic');
    title(ctx, 'RF current spectral density (nA²/Hz)', 14, 242, 17.5, -Math.PI/2);
    title(ctx, 'Detuning (kHz)', 184.5, 493, 18.5);
  }}]
});

// ---------------- PANEL D ----------------
new Chart(document.getElementById('cd'), {
  type:'scatter',
  data:{datasets:[
    {data: pts(dTemp, dPhotons), pointRadius:6.5, pointBackgroundColor: dColors, borderWidth:0, order:0},
    lineDs(pts(dTheoryT, dTheoryN), '#8a8a8a', 1.1, {order:1})
  ]},
  options: common({left:0, top:9, right:20, bottom:0}, {
    x: axisX(0, 280, dXTicks, dXLabels, v => String(v), 18.5, 4, 56),
    y: axisY(0, 17, dYTicks, dYLabels, v => String(v), 18.5, 10, 61)
  }),
  plugins:[{id:'decoD', beforeDatasetsDraw(c) {
    const ctx = c.ctx, X = v => c.scales.x.getPixelForValue(v), Y = v => c.scales.y.getPixelForValue(v);
    dTemp.forEach((t, i) => {
      const x = X(t), col = dColors[i];
      ctx.save(); ctx.globalAlpha = 0.8;
      line(ctx, x, Y(dErrLow[i]), x, Y(dErrHigh[i]), col, 1.2);
      line(ctx, x - 6, Y(dErrLow[i]), x + 6, Y(dErrLow[i]), col, 1.2);
      line(ctx, x - 6, Y(dErrHigh[i]), x + 6, Y(dErrHigh[i]), col, 1.2);
      ctx.restore();
    });
  }, afterDatasetsDraw(c) { frame(c); },
  afterDraw(c) {
    const ctx = c.ctx;
    text(ctx, 'd', 10, 25, LETTER, '#000', 'left', 'alphabetic');
    title(ctx, 'Thermal RF photons', 17, 192, 18.5, -Math.PI/2);
    title(ctx, 'Fridge temperature (mK)', 177.5, 407, 18.5);
  }}]
});
</script>
</body></html>
